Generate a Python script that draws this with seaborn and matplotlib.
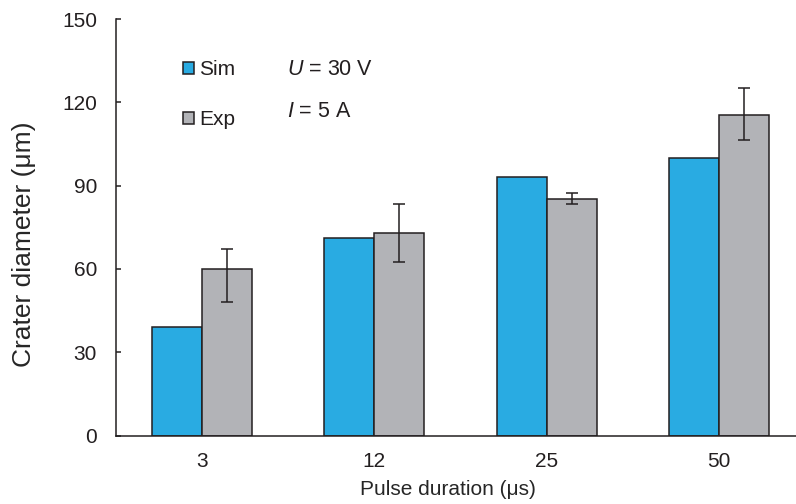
import numpy as np
import pandas as pd
import matplotlib
matplotlib.use("Agg")
import matplotlib.pyplot as plt
import seaborn as sns
from matplotlib.patches import Patch

# values
durations = ["3", "12", "25", "50"]
sim_diam = [39, 71, 93, 100]
exp_diam = [60, 73, 85, 115.5]
exp_low = [48, 62.5, 83.5, 106.5]
exp_high = [67, 83.5, 87.5, 125]

blue = "#29abe2"
grey = "#b2b3b7"
ink = "#231f20"

sns.set_style("white")
plt.rcParams["font.family"] = ["Liberation Sans", "DejaVu Sans"]
plt.rcParams["mathtext.fontset"] = "custom"
plt.rcParams["mathtext.it"] = "Liberation Sans:italic"
plt.rcParams["mathtext.rm"] = "Liberation Sans"
plt.rcParams["text.color"] = ink

df = pd.DataFrame({
    "duration": durations * 2,
    "source": ["Sim"] * len(durations) + ["Exp"] * len(durations),
    "diameter": sim_diam + exp_diam,
})

W, H = 796, 504
fig = plt.figure(figsize=(W / 100, H / 100), dpi=100)
ax = fig.add_axes([116 / W, 68.5 / H, 689 / W, 416.5 / H])

sns.barplot(data=df, x="duration", y="diameter", hue="source",
            order=durations, hue_order=["Sim", "Exp"],
            palette=[blue, grey], saturation=1, width=0.58,
            edgecolor=ink, linewidth=1.1, errorbar=None,
            legend=False, ax=ax)

# asymmetric error bars on the Exp bars
exp_bars = ax.containers[1]
xs = [b.get_x() + b.get_width() / 2 for b in exp_bars]
yerr = [np.array(exp_diam) - np.array(exp_low),
        np.array(exp_high) - np.array(exp_diam)]
ax.errorbar(xs, exp_diam, yerr=yerr, fmt="none", ecolor=ink,
            elinewidth=1.1, capsize=4.3, capthick=1.1)

# axes styling
ax.set_xlim(-0.5, 3.5)
ax.set_ylim(0, 150)
ax.set_yticks(range(0, 151, 30))
ax.set_xticks([-0.5, 0.5, 1.5, 2.5, 3.5])
ax.set_xticklabels([])
ax.set_xticks(range(len(durations)), minor=True)
ax.set_xticklabels(durations, minor=True)
ax.tick_params(axis="x", which="major", direction="out", length=4.5,
               width=1.1, color=ink)
ax.tick_params(axis="x", which="minor", length=0, pad=12, labelsize=15,
               labelcolor=ink)
ax.tick_params(axis="y", direction="in", length=3.6, width=1.1, color=ink,
               pad=13.7, labelsize=15, labelcolor=ink, left=True)
for side in ["top", "right"]:
    ax.spines[side].set_visible(False)
for side in ["left", "bottom"]:
    ax.spines[side].set_color(ink)
    ax.spines[side].set_linewidth(1.1)

ax.set_xlabel("Pulse duration (μs)", fontsize=15)
ax.xaxis.set_label_coords((448 - 116) / 689, -0.106)
ax.set_ylabel("Crater diameter (μm)", fontsize=19)
ax.yaxis.set_label_coords((36 - 116) / 689, 0.46)

handles = [Patch(facecolor=blue, edgecolor=ink, linewidth=1.1),
           Patch(facecolor=grey, edgecolor=ink, linewidth=1.1)]
ax.legend(handles, ["Sim", "Exp"], loc="upper left",
          bbox_to_anchor=(183 / W, 1 - 60 / H), bbox_transform=fig.transFigure,
          frameon=False, fontsize=15, handlelength=0.52, handleheight=0.52,
          handletextpad=0.25, labelspacing=1.5, borderpad=0, borderaxespad=0)

fig.text(287 / W, 1 - 75 / H, "$U$ = 30 V", fontsize=15.5, va="baseline")
fig.text(287 / W, 1 - 117 / H, "$I$ = 5 A", fontsize=15.5, va="baseline")

fig.savefig("out.png", dpi=100)
